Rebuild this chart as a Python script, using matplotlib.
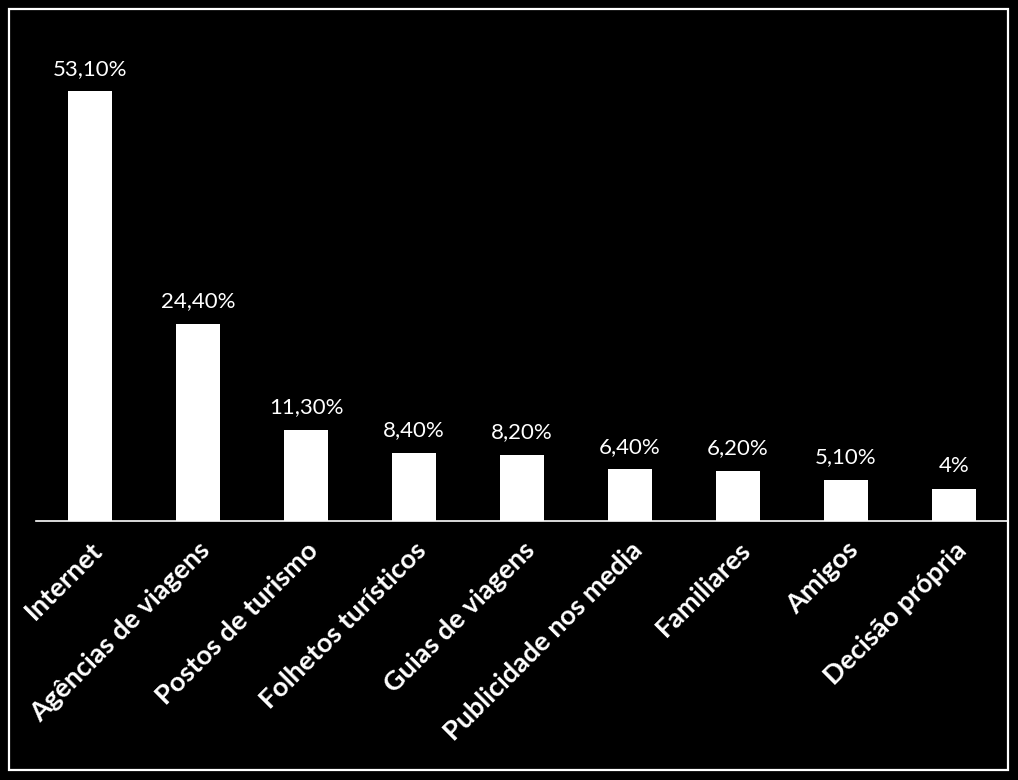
import numpy as np
import matplotlib
matplotlib.use('Agg')
import matplotlib.pyplot as plt
from matplotlib.patches import Rectangle

categories = ['Internet', 'Agências de viagens', 'Postos de turismo', 'Folhetos turísticos',
              'Guias de viagens', 'Publicidade nos media', 'Familiares', 'Amigos', 'Decisão própria']
values = [53.1, 24.4, 11.3, 8.4, 8.2, 6.4, 6.2, 5.1, 4.0]
value_labels = ['53,10%', '24,40%', '11,30%', '8,40%', '8,20%', '6,40%', '6,20%', '5,10%', '4%']

plt.rcParams['font.family'] = ['Lato', 'DejaVu Sans']

W, H = 1018, 780
fig = plt.figure(figsize=(W / 100, H / 100), dpi=100, facecolor='black')
ax = fig.add_axes([36 / W, 1 - 521 / H, 972 / W, (521 - 35.6) / H])
ax.set_facecolor('black')

x = np.arange(len(categories))
bars = ax.bar(x, values, width=0.41, color='white')
for b, lab in zip(bars, value_labels):
    ax.annotate(lab, xy=(b.get_x() + b.get_width() / 2, b.get_height()),
                xytext=(0, 9), textcoords='offset points',
                ha='center', va='bottom', color='white', fontsize=16)

ax.set_xlim(-0.5, len(categories) - 0.5)
ax.set_ylim(0, 60)
ax.set_yticks([])
ax.set_xticks(x)
ax.set_xticklabels(categories, rotation=45, ha='right', rotation_mode='anchor',
                   fontsize=19.5, fontweight='bold', color='white')
ax.tick_params(axis='x', length=0, pad=12)
for s in ['top', 'right', 'left']:
    ax.spines[s].set_visible(False)
ax.spines['bottom'].set_color('white')
ax.spines['bottom'].set_linewidth(1.2)

# outer white frame
fig.patches.append(Rectangle((9 / W, 1 - 770 / H), 999 / W, 761 / H, transform=fig.transFigure,
                             fill=False, edgecolor='white', linewidth=1.6))

plt.savefig('out.png', dpi=100, facecolor='black')
